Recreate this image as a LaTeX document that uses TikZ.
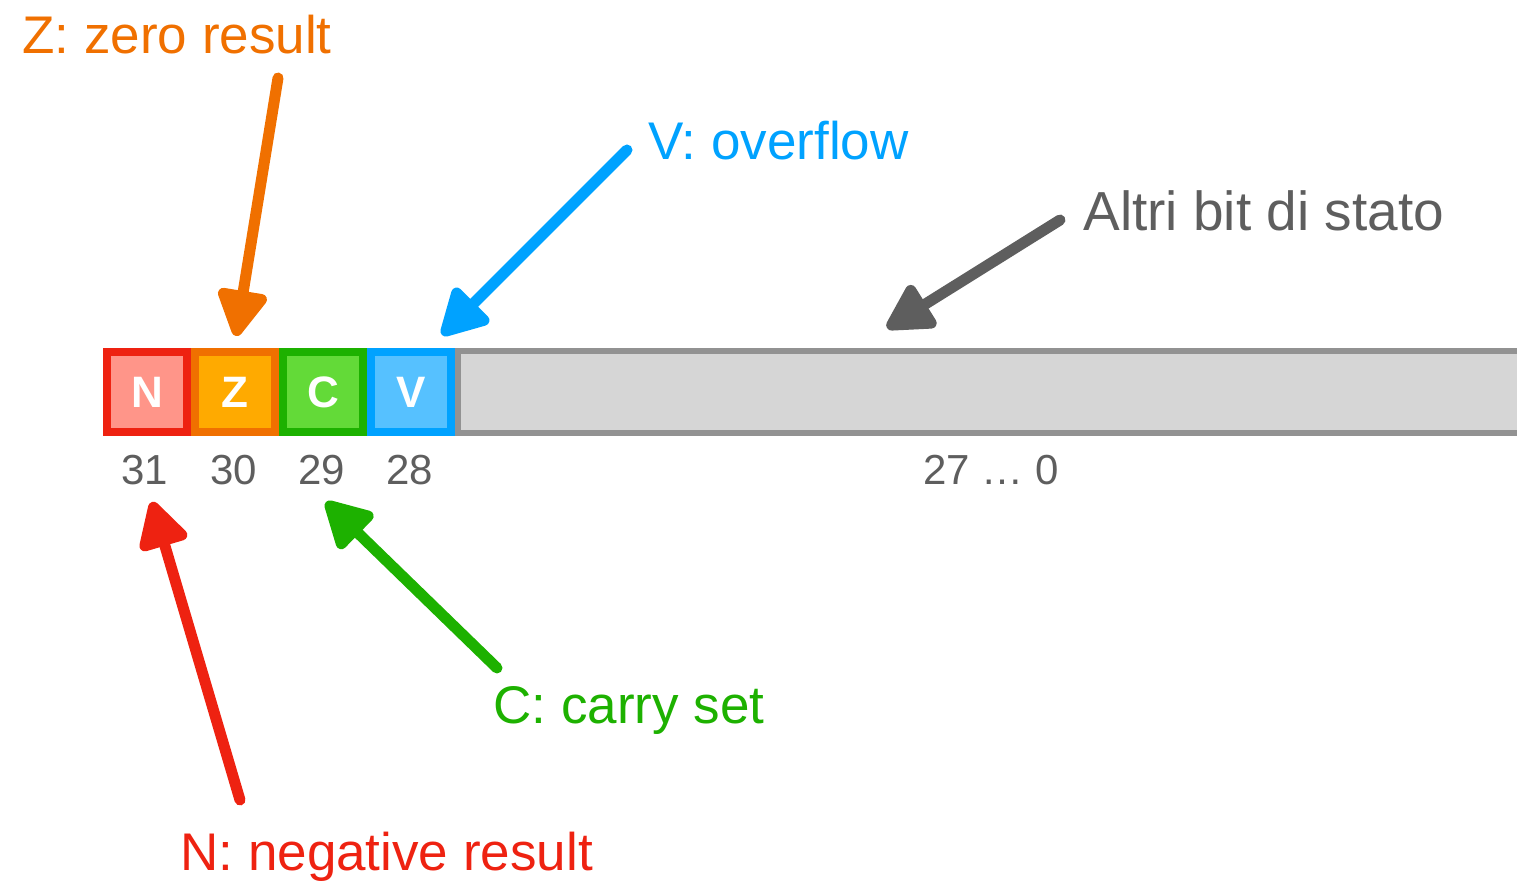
\documentclass[tikz,border=0pt]{standalone}
\usepackage{fontspec}
\setmainfont{Liberation Sans}
\usetikzlibrary{arrows.meta}
\definecolor{nred}{HTML}{EE2211}
\definecolor{nfill}{HTML}{FF9589}
\definecolor{zorange}{HTML}{F07000}
\definecolor{zfill}{HTML}{FFAA00}
\definecolor{cgreen}{HTML}{1DB100}
\definecolor{cfill}{HTML}{63DA38}
\definecolor{vblue}{HTML}{00A2FF}
\definecolor{vfill}{HTML}{56C1FF}
\definecolor{restgray}{HTML}{929292}
\definecolor{restfill}{HTML}{D6D6D6}
\definecolor{txtgray}{HTML}{5E5E5E}
\tikzset{flagbit/.style={
		draw,
		line width=4pt,
		minimum size=40pt,
		inner sep=0pt,
		text=white,
		font=\fontsize{22}{24}\selectfont\bfseries},
	bitnum/.style={
		text=txtgray,
		font=\fontsize{21}{23}\selectfont},
	flaglabel/.style={
		anchor=base west,
		inner sep=0pt,
		font=\fontsize{26.5}{30}\selectfont},
	pointer/.style={
		line width=5.5pt,
		line cap=round,
		-{Triangle[length=26pt,width=27pt,round]}}
	}

\begin{document}
\begin{tikzpicture}[x=0.5pt,y=-0.5pt]
			\useasboundingbox (0,0) rectangle (1517,881);
			\clip (0,0) rectangle (1517,881);
			% register
			\node [draw=restgray, fill=restfill, line width=3pt, anchor=west,
				minimum width=560pt, minimum height=41pt] (rest) at (455,392) {};
			\node [flagbit, draw=nred, fill=nfill] (N) at (147,392) {N};
			\node [flagbit, draw=zorange, fill=zfill] (Z) at (235,392) {Z};
			\node [flagbit, draw=cgreen, fill=cfill] (C) at (323,392) {C};
			\node [flagbit, draw=vblue, fill=vfill] (V) at (411,392) {V};
			% bit numbers
			\node [bitnum, anchor=base] (n31) at (145,485) {31};
			\node [bitnum, anchor=base] (n30) at (234,485) {30};
			\node [bitnum, anchor=base] (n29) at (322,485) {29};
			\node [bitnum, anchor=base] (n28) at (410,485) {28};
			\node [bitnum, anchor=base] (nrest) at (991,485) {27 … 0};
			% labels
			\node [flaglabel, text=zorange] (zlab) at (22,54) {Z: zero result};
			\node [flaglabel, text=vblue] (vlab) at (648,160) {V: overflow};
			\node [flaglabel, text=txtgray, font=\fontsize{27.5}{30}\selectfont] (glab) at (1083,231) {Altri bit di stato};
			\node [flaglabel, text=cgreen] (clab) at (493,724) {C: carry set};
			\node [flaglabel, text=nred] (nlab) at (180,871) {N: negative result};
			% arrows
			\coordinate (ztail) at (278,78);
			\coordinate (ztip) at (236,336);
			\coordinate (vtail) at (627,150);
			\coordinate (vtip) at (442,335);
			\coordinate (gtail) at (1060,220);
			\coordinate (gtip) at (887,328);
			\coordinate (ntail) at (240,800);
			\coordinate (ntip) at (152,502);
			\coordinate (ctail) at (497,668);
			\coordinate (ctip) at (326,502);
			\draw [pointer, zorange] (ztail) -- (ztip);
			\draw [pointer, vblue] (vtail) -- (vtip);
			\draw [pointer, txtgray] (gtail) -- (gtip);
			\draw [pointer, nred] (ntail) -- (ntip);
			\draw [pointer, cgreen] (ctail) -- (ctip);
		\end{tikzpicture}
\end{document}
